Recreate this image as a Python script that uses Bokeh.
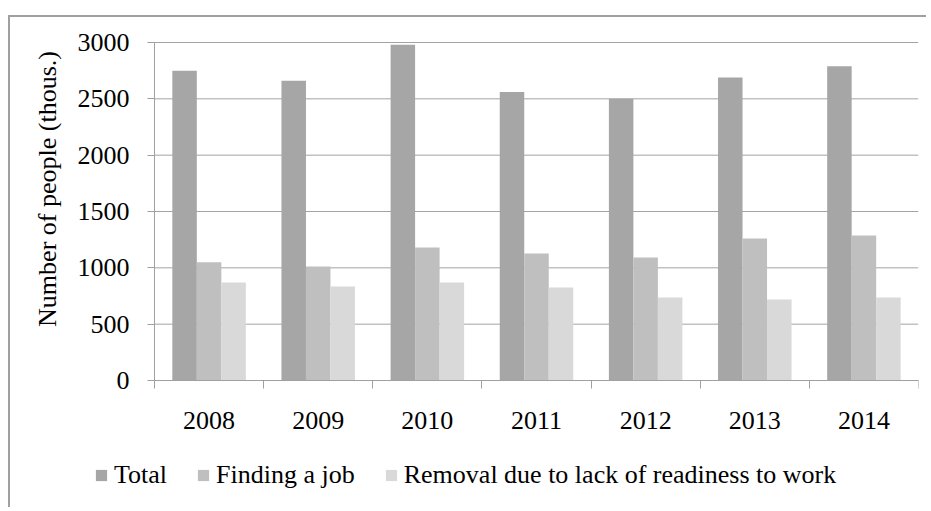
import numpy as np
from bokeh.plotting import figure
from bokeh.models import (ColumnDataSource, FixedTicker, Legend, LegendItem, Range1d,
                          LinearAxis)
from bokeh.transform import dodge
from bokeh.embed import file_html
from bokeh.resources import INLINE

years = ["2008", "2009", "2010", "2011", "2012", "2013", "2014"]
total = [2750, 2660, 2980, 2560, 2500, 2690, 2790]
finding_job = [1050, 1012, 1180, 1128, 1092, 1260, 1288]
removal = [870, 835, 870, 826, 737, 720, 737]
y_ticks = [0, 500, 1000, 1500, 2000, 2500, 3000]
series_names = ["Total", "Finding a job", "Removal due to lack of readiness to work"]
colors = ["#a6a6a6", "#bfbfbf", "#d9d9d9"]

n = len(years)
pos = list(np.arange(n) + 0.5)
src = ColumnDataSource(dict(x=pos, total=total, finding=finding_job, removal=removal))

FONT = "Liberation Serif"
FS = "26px"
GRAY = "#a0a0a0"

# layout (pixels): frame spans most of the canvas; axes are pinned at data 0
px_x = 764 / n          # pixels per category
px_y = 338 / 3000       # pixels per unit
left_pad, top_pad, bot_pad = 134, 12, 120
p = figure(width=918, height=492, output_backend="svg", toolbar_location=None,
           x_range=Range1d(-left_pad / px_x, n),
           y_range=Range1d(-bot_pad / px_y, 3000 + top_pad / px_y),
           min_border_left=10, min_border_right=10, min_border_top=13, min_border_bottom=9)
p.styles = {"margin-top": "15px", "margin-left": "8px",
            "border-top": "2px solid #a0a0a0", "border-left": "2px solid #a0a0a0"}
p.outline_line_color = None
p.background_fill_color = "white"
p.border_fill_color = "white"
p.xgrid.grid_line_color = None
p.ygrid.grid_line_color = None

# horizontal gridlines behind bars
p.segment(x0=0, x1=n, y0=y_ticks, y1=y_ticks, line_color="#a3a3a3", line_width=1,
          level="underlay")

bw = 0.2245
r1 = p.vbar(x=dodge("x", -bw, range=p.x_range), top="total", width=bw, source=src,
            fill_color=colors[0], line_color=None)
r2 = p.vbar(x=dodge("x", 0, range=p.x_range), top="finding", width=bw, source=src,
            fill_color=colors[1], line_color=None)
r3 = p.vbar(x=dodge("x", bw, range=p.x_range), top="removal", width=bw, source=src,
            fill_color=colors[2], line_color=None)

# x axis
xa = p.xaxis[0]
xa.fixed_location = 0
xa.bounds = (0, n)
xa.ticker = FixedTicker(ticks=pos, minor_ticks=list(range(n + 1)))
xa.major_label_overrides = {float(x): y for x, y in zip(pos, years)}
xa.major_tick_out = 0
xa.major_tick_in = 0
xa.minor_tick_out = 8
xa.minor_tick_in = 0
xa.minor_tick_line_color = GRAY
xa.axis_line_color = GRAY
xa.major_label_text_font = FONT
xa.major_label_text_font_size = FS
xa.major_label_text_color = "black"
xa.major_label_standoff = 23

# y axis
ya = p.yaxis[0]
ya.fixed_location = 0
ya.bounds = (0, 3000)
ya.ticker = FixedTicker(ticks=y_ticks)
ya.minor_tick_line_color = None
ya.major_tick_out = 7
ya.major_tick_in = 0
ya.major_tick_line_color = GRAY
ya.axis_line_color = GRAY
ya.major_label_text_font = FONT
ya.major_label_text_font_size = FS
ya.major_label_text_color = "black"
ya.major_label_standoff = 18

# axis carrying only the y title
yt = LinearAxis(ticker=FixedTicker(ticks=[]), fixed_location=0, bounds=(400, 3000),
                axis_line_color=None, major_tick_line_color=None, minor_tick_line_color=None,
                major_tick_out=0, major_tick_in=0, minor_tick_out=0, minor_tick_in=0,
                major_label_text_font_size="1px")
yt.axis_label = "Number of people (thous.)"
yt.axis_label_text_font = FONT
yt.axis_label_text_font_size = FS
yt.axis_label_text_font_style = "normal"
yt.axis_label_text_color = "black"
yt.axis_label_standoff = 93
p.add_layout(yt, "left")

legend = Legend(items=[LegendItem(label=series_names[0], renderers=[r1]),
                       LegendItem(label=series_names[1], renderers=[r2]),
                       LegendItem(label=series_names[2], renderers=[r3])],
                orientation="horizontal", location=(74, 10))
legend.label_text_font = FONT
legend.label_text_font_size = FS
legend.label_text_color = "black"
legend.glyph_width = 14
legend.glyph_height = 14
legend.label_standoff = 6
legend.label_width = 10
legend.spacing = 29
legend.padding = 0
legend.margin = 0
legend.border_line_color = None
legend.background_fill_alpha = 0
p.add_layout(legend, "center")

open("out.html", "w").write(file_html(p, INLINE))
